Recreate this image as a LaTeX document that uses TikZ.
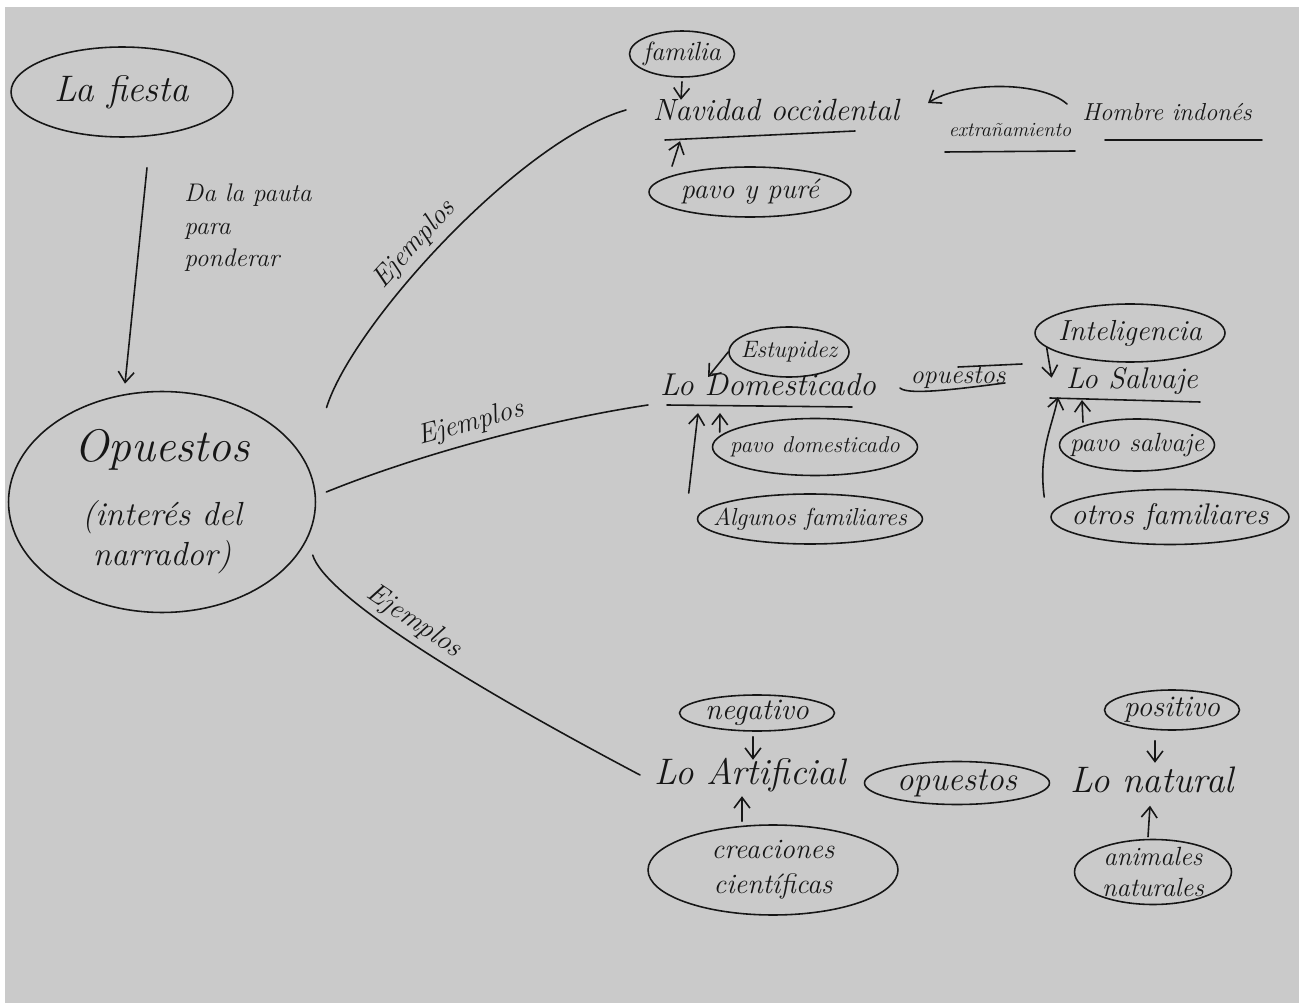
\documentclass[tikz,border=0pt]{standalone}
\usepackage{fontspec}
\usepackage{tikz}
\usetikzlibrary{arrows.meta,positioning,shapes.geometric,calc}
\definecolor{paper}{RGB}{202,202,202}
\definecolor{ink}{RGB}{22,22,22}
\begin{document}
\begin{tikzpicture}[x=0.02cm, y=-0.02cm, color=ink, line width=0.9pt, line cap=round,
  hw/.style={font=\itshape\fontsize{#1}{#1}\selectfont},
  oval/.style={ellipse, draw, inner sep=-20pt},
  arr/.style={-{Straight Barb[length=6pt,width=9pt]}}]
\useasboundingbox (0,0) rectangle (1299,1003);
% paper
\fill[white] (0,0) rectangle (1299,1003);
\fill[paper] (5,7) rectangle (1299,1003);
% Centre
\node[oval, hw=21, minimum width=4.44cm, minimum height=1.8cm] (fiesta) at (122,92) {La fiesta};
\node[hw=14.5, align=left] (pauta) at (248,228) {Da la pauta\\[4pt]para\\[4pt]ponderar};
\node[oval, hw=19, align=center, minimum width=6.14cm, minimum height=4.42cm] (opu) at (162,502)
  {{\fontsize{26}{26}\selectfont Opuestos}\\[16pt](interés del\\[3pt]narrador)};
\draw[arr] ($(fiesta.south)+(25,30)$) -- ($(opu.north)+(-37,-7)$);
% Navidad
\node[hw=17.5] (nav) at (776,110) {Navidad occidental};
\node[oval, hw=15, minimum width=2.1cm, minimum height=0.92cm] (fam) at (682,54) {familia};
\node[oval, hw=16, minimum width=4.04cm, minimum height=1.0cm] (pavo) at (750,192) {pavo y puré};
\node[hw=11.5] (extr) at (1010,130) {extrañamiento};
\node[hw=14] (hom) at (1167,112) {Hombre indonés};
\draw (665,140) -- (855,131);
\draw (945,152) -- (1075,151);
\draw (1105,140) -- (1262,140);
\draw[arr] ($(fam.south)+(0,4)$) -- ($(fam.south)+(-1,22)$);
\draw[arr] ($(pavo.north)+(-78,0)$) -- ($(pavo.north)+(-70,-25)$);
\draw[arr] ($(hom)+(-100,-8)$) .. controls (1040,80) and (960,82) .. ($(nav)+(152,-7)$);
% Domesticado / Salvaje
\node[hw=18] (dom) at (768,385) {Lo Domesticado};
\node[oval, hw=13.5, minimum width=2.4cm, minimum height=1.0cm] (estu) at (789,352) {Estupidez};
\node[oval, hw=13, minimum width=4.1cm, minimum height=1.14cm] (pdom) at (815,447) {pavo domesticado};
\node[oval, hw=14, minimum width=4.5cm, minimum height=1.0cm] (alg) at (810,519) {Algunos familiares};
\node[hw=15] (opm) at (958,378) {opuestos};
\draw (667,405) -- (852,407);
\draw[arr] (estu.west) -- ($(dom)+(-60,-8)$);
\draw[arr] ($(alg.west)+(-8,-26)$) -- ($(dom)+(-70,28)$);
\draw[arr] ($(pdom.west)+(8,-15)$) -- ($(dom)+(-48,28)$);
\draw ($(opm)+(-58,10)$) .. controls +(8,8) and +(-40,5) .. ($(opm)+(47,5)$);
\draw ($(opm)+(0,-11)$) -- ($(opm)+(64,-14)$);
\node[oval, hw=16.5, minimum width=3.8cm, minimum height=1.16cm] (inte) at (1130,333) {Inteligencia};
\node[hw=17] (sal) at (1132,381) {Lo Salvaje};
\node[oval, hw=15, minimum width=3.1cm, minimum height=1.04cm] (psal) at (1137,445) {pavo salvaje};
\node[oval, hw=17, minimum width=4.76cm, minimum height=1.1cm] (otros) at (1170,517) {otros familiares};
\draw (1050,398) -- (1200,402);
\draw[arr] (inte.190) -- ($(inte.190)+(5,30)$);
\draw[arr] ($(otros.west)+(-6,-20)$) .. controls +(-6,-45) and +(-6,30) .. ($(sal)+(-74,16)$);
\draw[arr] ($(psal.north)+(-54,4)$) -- ($(sal)+(-50,19)$);
% Artificial / natural
\node[hw=21] (art) at (750,775) {Lo Artificial};
\node[oval, hw=17, minimum width=3.1cm, minimum height=0.72cm] (neg) at (757,713) {negativo};
\node[oval, hw=16, align=center, minimum width=5.0cm, minimum height=1.8cm] (crea) at (773,870) {creaciones\\[4pt]científicas};
\node[oval, hw=19, minimum width=3.7cm, minimum height=0.86cm] (opb) at (957,783) {opuestos};
\node[hw=21] (nat) at (1152,780) {Lo natural};
\node[oval, hw=17, minimum width=2.7cm, minimum height=0.8cm] (pos) at (1172,710) {positivo};
\node[oval, hw=15, align=center, minimum width=3.14cm, minimum height=1.3cm] (anim) at (1153,872) {animales\\[3pt]naturales};
\draw[arr] ($(neg.south)+(-4,5)$) -- ($(neg.south)+(-4,28)$);
\draw[arr] ($(crea.north)+(-31,-3)$) -- ($(crea.north)+(-31,-28)$);
\draw[arr] ($(pos.south)+(-17,10)$) -- ($(pos.south)+(-17,32)$);
\draw[arr] ($(anim.north)+(-5,-2)$) -- ($(anim.north)+(-3,-33)$);
% Ejemplos
\draw ($(opu.25)+(35,-34)$) .. controls (352,325) and (520,140) .. ($(nav)+(-150,0)$)
  node[pos=0.45, sloped, above, hw=16] {Ejemplos};
\draw ($(opu.east)+(10,-10)$) .. controls (430,450) and (560,418) .. ($(dom)+(-120,20)$)
  node[pos=0.45, sloped, above, hw=16] {Ejemplos};
\draw ($(opu.-20)+(13,3)$) .. controls (325,595) and (460,680) .. ($(art)+(-110,0)$)
  node[pos=0.47, sloped, above, hw=16] {Ejemplos};
\end{tikzpicture}
\end{document}
